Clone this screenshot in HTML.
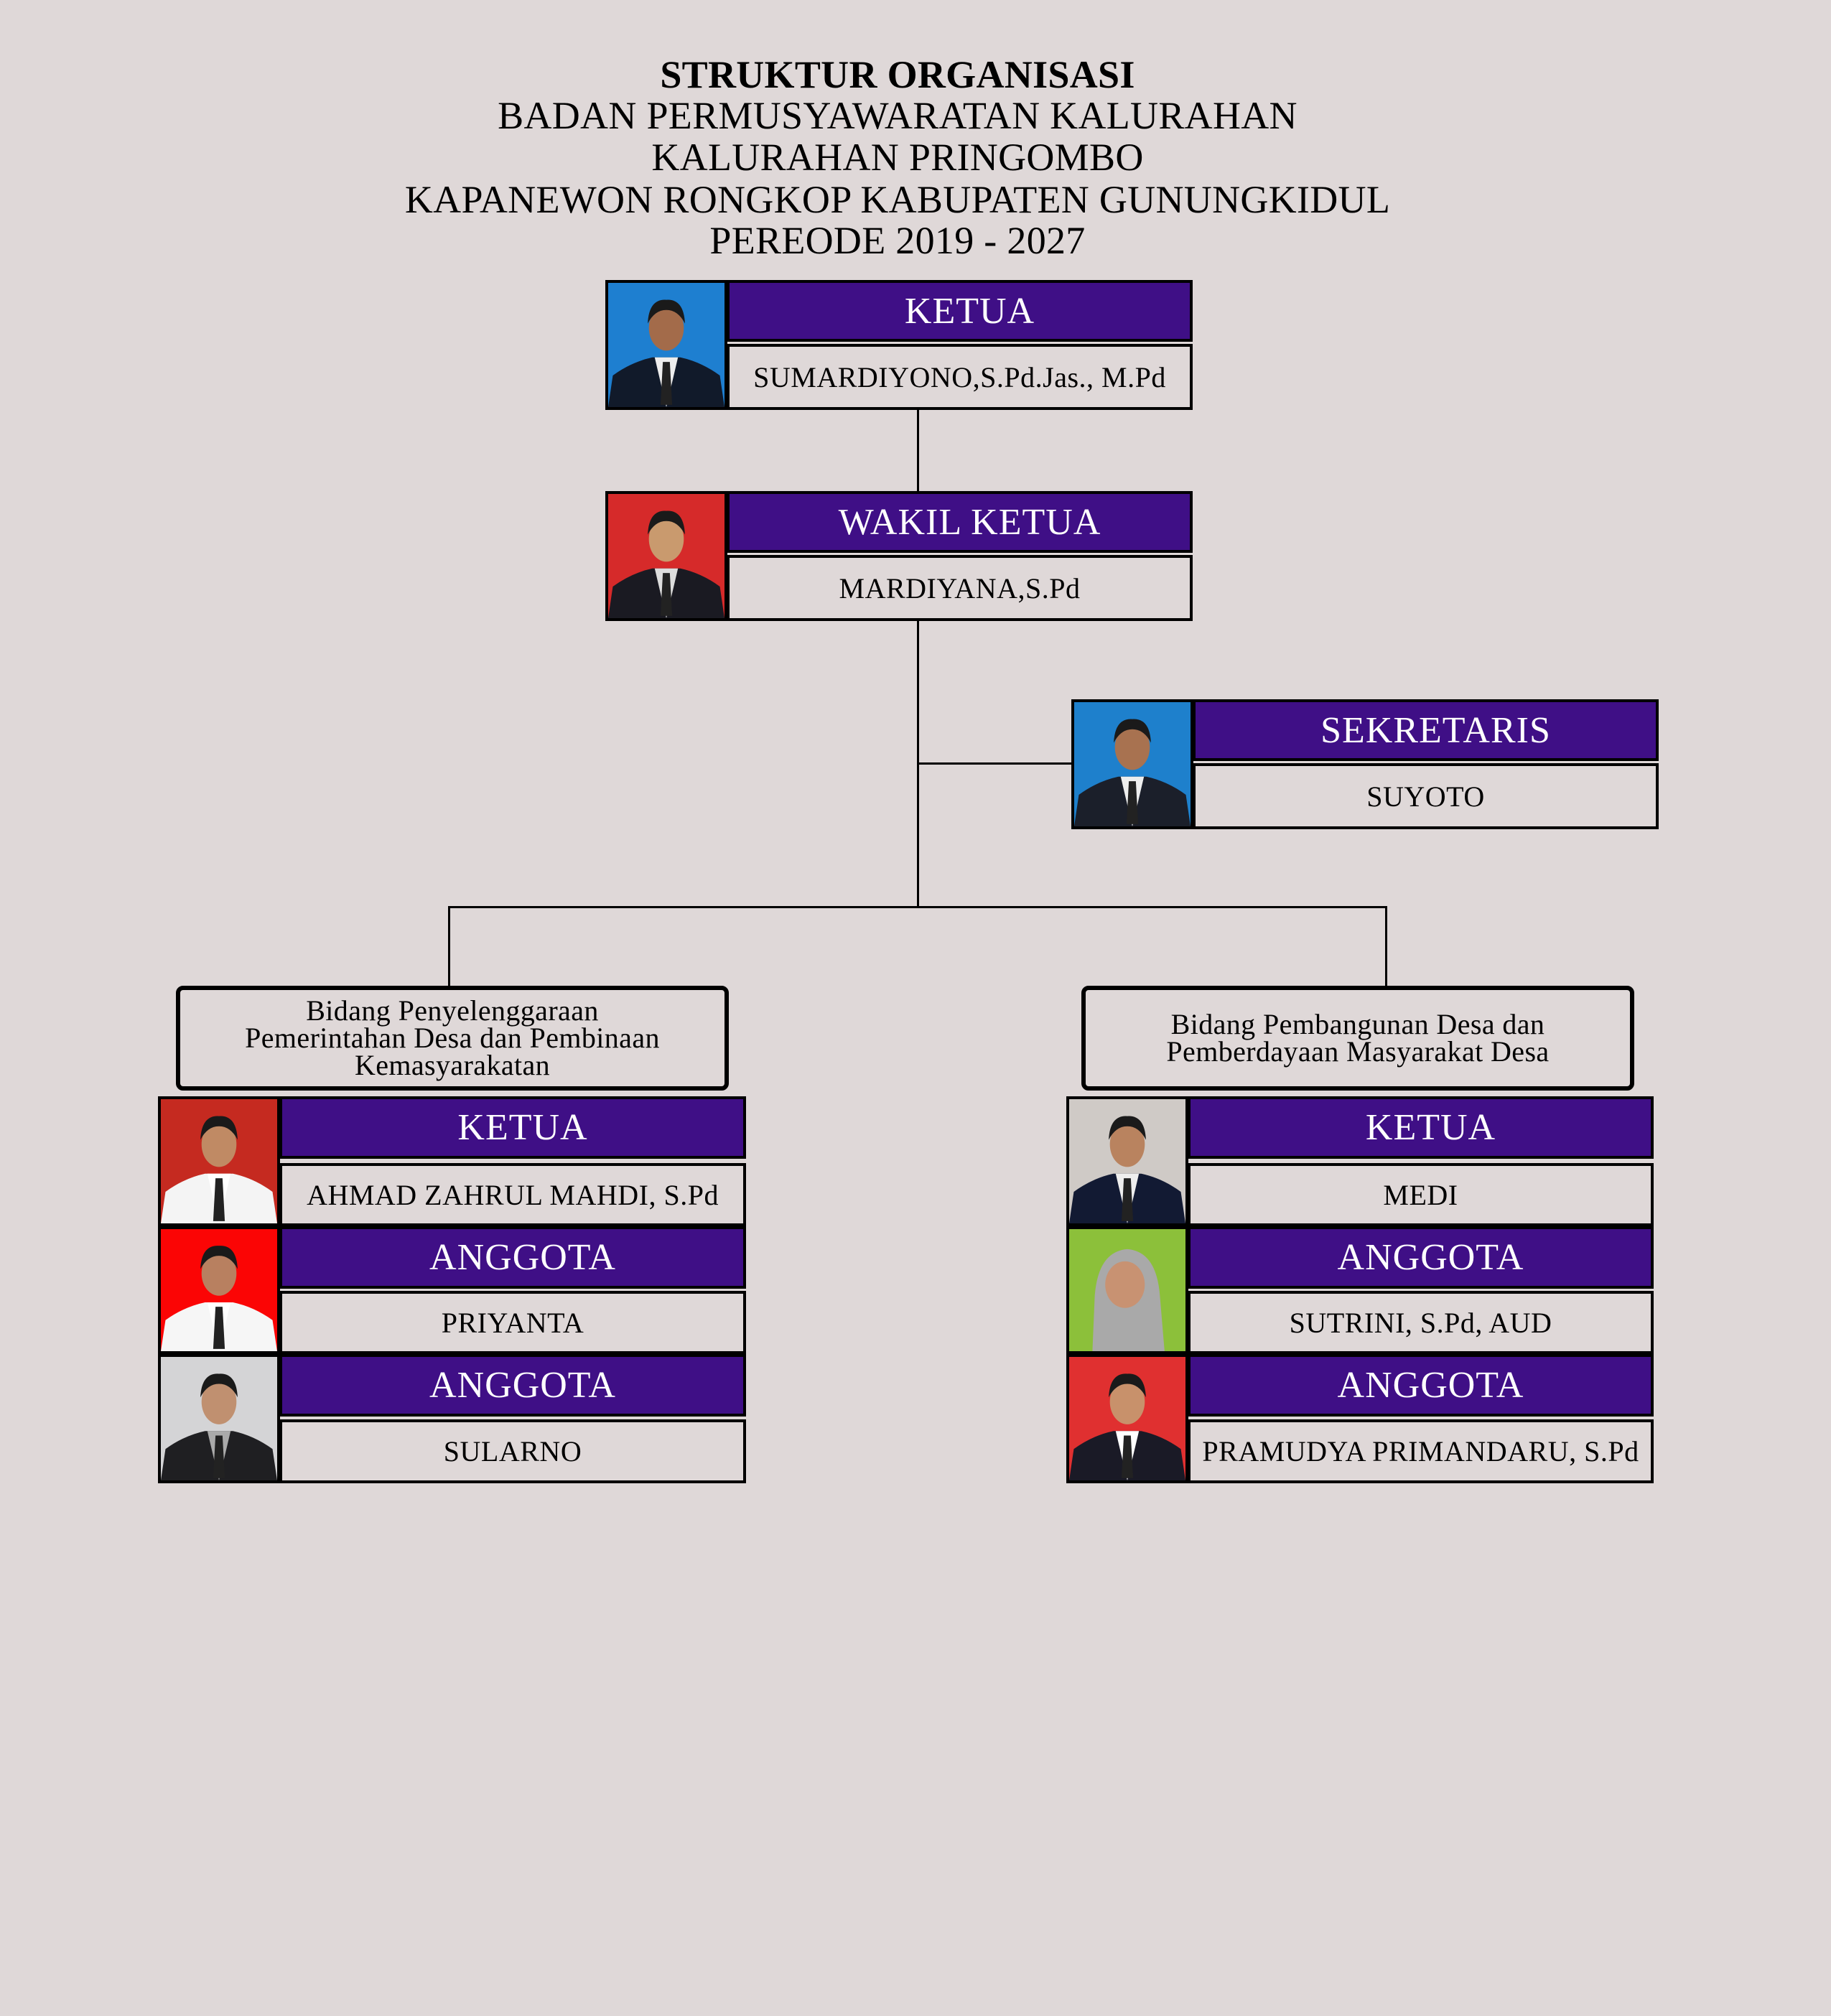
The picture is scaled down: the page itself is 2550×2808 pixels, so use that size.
<!DOCTYPE html>
<html><head><meta charset="utf-8">
<style>
html,body{margin:0;padding:0}
body{width:2550px;height:2808px;background:#dfd8d8;position:relative;overflow:hidden;font-family:"Liberation Serif",serif}
.a{position:absolute;box-sizing:border-box}
.t{position:absolute;left:0;width:2500px;text-align:center;font-size:54px;letter-spacing:0.3px;color:#000;line-height:58px}
.ln{position:absolute;background:#000}
.pu{background:#3f0f86;border:4px solid #000;color:#fff;display:flex;align-items:center;justify-content:center;font-size:52px;letter-spacing:1px;padding-left:28px}
.nm{background:#dfd8d8;border:4px solid #000;color:#000;display:flex;align-items:center;justify-content:center;font-size:40px;letter-spacing:0.5px;white-space:nowrap}
.ph{border:4px solid #000;overflow:hidden}
.bd{border:6px solid #000;border-radius:10px;display:flex;align-items:center;justify-content:center;text-align:center;font-size:40px;letter-spacing:0.4px;line-height:38px}
</style></head><body>
<div class="t" style="top:75px;font-weight:bold">STRUKTUR ORGANISASI</div>
<div class="t" style="top:132px">BADAN PERMUSYAWARATAN KALURAHAN</div>
<div class="t" style="top:190px">KALURAHAN PRINGOMBO</div>
<div class="t" style="top:249px">KAPANEWON RONGKOP KABUPATEN GUNUNGKIDUL</div>
<div class="t" style="top:306px">PEREODE 2019 - 2027</div>

<div class="ln" style="left:1277px;top:571px;width:3px;height:113px"></div>
<div class="ln" style="left:1277px;top:865px;width:3px;height:400px"></div>
<div class="ln" style="left:1277px;top:1062px;width:215px;height:3px"></div>
<div class="ln" style="left:624px;top:1262px;width:1308px;height:3px"></div>
<div class="ln" style="left:624px;top:1262px;width:3px;height:113px"></div>
<div class="ln" style="left:1929px;top:1262px;width:3px;height:113px"></div>

<div class="a bd" style="left:245px;top:1373px;width:770px;height:146px">Bidang Penyelenggaraan<br>Pemerintahan Desa dan Pembinaan<br>Kemasyarakatan</div>
<div class="a bd" style="left:1506px;top:1373px;width:770px;height:146px">Bidang Pembangunan Desa dan<br>Pemberdayaan Masyarakat Desa</div>

<div id="root"></div>
<script>
function person(bg,suit,skin,shirt,hijab){
 var h='<svg width="100%" height="100%" viewBox="0 0 100 110" preserveAspectRatio="none"><rect width="100" height="110" fill="'+bg+'"/>';
 if(hijab){h+='<path d="M20 110 L22 60 Q25 20 50 18 Q75 20 78 60 L82 110Z" fill="#a9a9a9"/><ellipse cx="48" cy="50" rx="17" ry="21" fill="'+skin+'"/>';}
 else{h+='<path d="M0 110 L4 82 Q20 70 38 66 L62 66 Q80 70 96 82 L100 110Z" fill="'+suit+'"/><path d="M40 66 L50 110 L60 66Z" fill="'+shirt+'"/><path d="M47 70 L53 70 L55 108 L45 108Z" fill="#222"/><ellipse cx="50" cy="40" rx="15" ry="20" fill="'+skin+'"/><path d="M34 36 Q35 14 50 15 Q65 14 66 36 Q60 24 50 24 Q40 24 34 36Z" fill="#1a1a1a"/>';}
 return h+'</svg>';
}
function block(x,y,w,rows){
 var s='',pw=170;
 rows.forEach(function(r){
  var yy=r[0],h=r[1],ph=r[2],nh=r[3];
  s+='<div class="a ph" style="left:'+x+'px;top:'+yy+'px;width:'+pw+'px;height:'+h+'px">'+person.apply(null,r[6])+'</div>';
  s+='<div class="a pu" style="left:'+(x+pw-1)+'px;top:'+yy+'px;width:'+(w-pw+1)+'px;height:'+ph+'px">'+r[4]+'</div>';
  s+='<div class="a nm" style="left:'+(x+pw-1)+'px;top:'+(yy+h-nh)+'px;width:'+(w-pw+1)+'px;height:'+nh+'px">'+r[5]+'</div>';
 });
 return s;
}
var s='';
s+=block(843,390,818,[[390,181,86,92,'KETUA','SUMARDIYONO,S.Pd.Jas., M.Pd',['#1e7fd0','#111a2a','#a36b4a','#eee']]]);
s+=block(843,684,818,[[684,181,86,92,'WAKIL KETUA','MARDIYANA,S.Pd',['#d62a2a','#1a1a22','#c99a6e','#ddd']]]);
s+=block(1492,974,818,[[974,181,86,92,'SEKRETARIS','SUYOTO',['#1e80cc','#1b1f2a','#a87250','#eee']]]);
s+=block(220,1527,819,[
 [1527,181,87,88,'KETUA','AHMAD ZAHRUL MAHDI, S.Pd',['#c52a20','#f4f4f4','#c08a64','#fff']],
 [1708,178,87,88,'ANGGOTA','PRIYANTA',['#fb0505','#f6f6f6','#b88060','#fff']],
 [1886,180,87,89,'ANGGOTA','SULARNO',['#d4d4d6','#1f1f22','#c09070','#aaa']]]);
s+=block(1485,1527,818,[
 [1527,181,87,88,'KETUA','MEDI',['#cfcac6','#121a33','#b9835f','#eee']],
 [1708,178,87,88,'ANGGOTA','SUTRINI, S.Pd, AUD',['#8cc03a','#999','#c89272','#fff',true]],
 [1886,180,87,89,'ANGGOTA','PRAMUDYA PRIMANDARU, S.Pd',['#e03030','#1a1a26','#c8916b','#fff']]]);
document.getElementById('root').innerHTML=s;
</script>
</body></html>
